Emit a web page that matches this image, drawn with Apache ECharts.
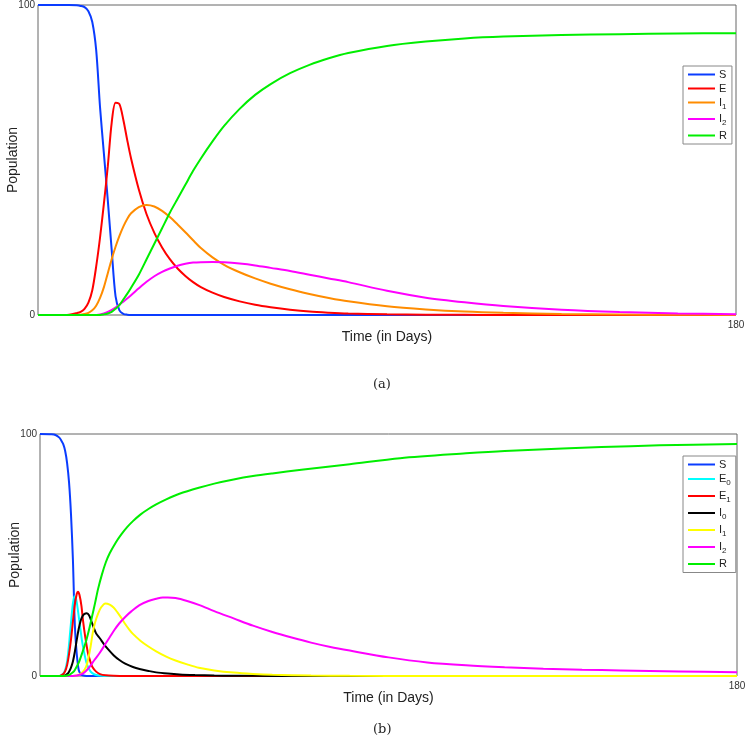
<!DOCTYPE html>
<html>
<head>
<meta charset="utf-8">
<script src="https://cdn.jsdelivr.net/npm/echarts@6/dist/echarts.min.js"></script>
<style>
html,body{margin:0;padding:0;background:#fff;}
#c{width:746px;height:738px;}
</style>
</head>
<body>
<div id="c"></div>
<script>
// ---------- Panel (a) data: [day, population] ----------
const S_a = [[0,100],[5,100],[8,100],[10,99.9],[11,99.7],[12,99.3],[13,98],[14,94.5],[15,85.5],[16,67],[17,52],[18,37],[19,21],[20,6],[21,1.5],[22,0.4],[23,0.1],[24,0],[40,0],[180,0]];
const E_a = [[0,0],[5,0],[8,0.1],[10,0.6],[11,1],[12,2],[13,4],[14,8],[15,15.6],[16,25],[17,36],[18,48],[19,62],[20,68.5],[21,68],[22,63],[23,56.5],[24,50.5],[26,40.5],[28,32.5],[30,26.5],[32,21.8],[34,18],[36,15],[38,12.6],[40,10.6],[42,9],[45,7.2],[48,5.8],[52,4.4],[56,3.3],[60,2.5],[65,1.7],[70,1.1],[75,0.75],[80,0.5],[90,0.25],[100,0.1],[110,0.05],[120,0.02],[135,0],[180,0]];
const I1_a = [[0,0],[10,0],[11,0.1],[12,0.3],[13,0.7],[14,1.5],[15,3],[16,5.5],[17,9],[18,13.5],[19,18],[20,22],[21,25.5],[22,28.5],[23,31],[24,32.8],[26,34.8],[28,35.5],[30,35],[32,33.6],[34,31.6],[36,29.2],[38,26.7],[40,24.1],[42,21.6],[45,18.6],[48,16.2],[52,13.8],[56,11.8],[60,10.1],[65,8.3],[70,6.8],[75,5.5],[80,4.4],[90,2.8],[100,1.8],[110,1.1],[120,0.7],[135,0.35],[150,0.15],[165,0.07],[180,0.03]];
const I2_a = [[0,0],[14,0],[16,0.2],[18,1],[20,2.4],[22,4.3],[24,6.4],[26,8.6],[28,10.7],[30,12.5],[32,13.9],[34,15],[36,15.9],[38,16.5],[40,16.9],[42,17.05],[45,17.1],[48,17],[52,16.6],[56,16],[60,15.2],[65,14.2],[70,13],[75,11.8],[80,10.6],[90,7.8],[100,5.6],[110,4.1],[120,2.9],[135,1.7],[150,0.95],[165,0.5],[180,0.25]];
const R_a = [[0,0],[16,0],[17,0.2],[18,0.5],[19,1],[20,2],[21,3.2],[22,5],[23,6.8],[24,8.8],[26,13],[28,18],[30,23],[32,28],[34,33],[36,37.5],[38,42],[40,46.5],[42,50.5],[45,56],[48,61],[52,66.5],[56,71],[60,74.5],[65,78],[70,80.7],[75,82.8],[80,84.5],[90,86.8],[100,88.2],[110,89.2],[120,89.8],[135,90.3],[150,90.6],[165,90.8],[180,90.9]];

// ---------- Panel (b) data ----------
const S_b = [[0,100],[3,99.9],[4,99.6],[5,98.5],[5.5,97.3],[6,95.8],[6.5,93],[7,88],[7.5,80],[8,67],[8.5,48],[9,21],[9.5,9],[10,2.5],[10.5,0.8],[11,0.3],[12,0],[30,0],[180,0]];
const E0_b = [[0,0],[5,0],[5.5,0.4],[6,1],[6.5,2.5],[7,6],[7.5,13],[8,22],[8.5,30],[8.9,33],[9.3,32],[9.8,27],[10.3,21],[10.8,15],[11.3,10.5],[12,5.5],[12.8,2.5],[13.5,1.2],[14.5,0.4],[16,0.1],[18,0],[180,0]];
const E1_b = [[0,0],[5,0],[6,0.8],[6.5,2],[7,4.5],[7.5,9],[8,15],[8.5,22.5],[9,29.5],[9.5,34],[9.8,34.8],[10.2,33.5],[10.7,29],[11.1,23],[11.7,16],[12.4,9.4],[13,6],[13.5,3.8],[14.5,1.8],[15.5,0.8],[17,0.3],[19,0.1],[22,0],[180,0]];
const I0_b = [[0,0],[6,0],[6.5,0.3],[7,0.8],[7.5,1.8],[8,3.5],[8.5,6],[9,10],[9.5,15],[10,19.5],[10.5,22.8],[11,24.8],[11.5,25.7],[12.1,25.9],[12.7,25],[13.3,22.5],[14,19.5],[14.5,17.6],[15.5,15.5],[16.5,13.2],[17.5,11.2],[19,8.6],[20.5,6.6],[22,5.1],[24,3.7],[26,2.8],[28,2.1],[30,1.5],[33,1],[36,0.65],[40,0.4],[45,0.2],[50,0.1],[60,0.03],[70,0],[180,0]];
const I1_b = [[0,0],[8,0],[9,0.1],[10,0.5],[11,1.6],[11.9,3.8],[12.5,7.5],[13,11.5],[13.6,17.6],[14.2,22],[15,25.8],[15.8,28.4],[16.9,30],[18,29.5],[19,28.3],[20,26.3],[21,24],[22,21.5],[23,19.3],[24,17.4],[26,14.5],[28,12.2],[30,10.2],[32.6,8],[35,6.4],[38,4.8],[41,3.4],[45,2.3],[50,1.4],[55,0.85],[60,0.5],[70,0.2],[80,0.08],[100,0],[180,0]];
const I2_b = [[0,0],[8,0],[9,0.1],[10,0.4],[11,1],[12,2.3],[13,4.2],[14,6.5],[15.4,9.5],[17,13.5],[18,16],[19.2,19],[20.5,21.8],[22,24.4],[23.5,26.6],[25.7,29.3],[28,31],[30,31.9],[31.7,32.4],[33,32.4],[35,32.2],[38,31],[41.2,29.3],[45,26.8],[50,23.8],[55,20.8],[60,18.2],[65,15.9],[70,13.8],[75,12],[80,10.5],[90,7.7],[100,5.6],[110,4.4],[120,3.6],[130,3],[140,2.6],[150,2.3],[165,1.9],[180,1.6]];
const R_b = [[0,0],[6,0],[7,0.2],[7.6,0.5],[8.5,1.5],[9,2.5],[10,5.5],[11,10],[12,15],[12.8,20],[13.5,25],[14.2,30],[15,36],[16,42],[17,47],[18,50.7],[19.5,55],[21,58.5],[22.5,61.5],[24,64],[26,66.8],[28,69],[30,70.9],[32.6,73],[36,75.3],[41,77.8],[45,79.5],[50,81.2],[55,82.6],[60,83.7],[67.5,85.2],[80,87.5],[93,90],[110,92],[120,93],[135,94],[145,94.6],[160,95.3],[180,95.9]];

// ---------- labels ----------
const yTicks = [0, 100];
const xMax = 180;
const legendA = [
  {id:'S_a', label:'S', color:'#0a3cff', data:S_a},
  {id:'E_a', label:'E', color:'#ff0000', data:E_a},
  {id:'I1_a', label:'I{sub|1}', color:'#ff8c00', data:I1_a},
  {id:'I2_a', label:'I{sub|2}', color:'#ff00ff', data:I2_a},
  {id:'R_a', label:'R', color:'#00ee00', data:R_a}
];
const legendB = [
  {id:'S_b', label:'S', color:'#0a3cff', data:S_b},
  {id:'E0_b', label:'E{sub|0}', color:'#00ffff', data:E0_b},
  {id:'E1_b', label:'E{sub|1}', color:'#ff0000', data:E1_b},
  {id:'I0_b', label:'I{sub|0}', color:'#000000', data:I0_b},
  {id:'I1_b', label:'I{sub|1}', color:'#ffff00', data:I1_b},
  {id:'I2_b', label:'I{sub|2}', color:'#ff00ff', data:I2_b},
  {id:'R_b', label:'R', color:'#00ee00', data:R_b}
];
const labelMap = {};
[...legendA, ...legendB].forEach(d => labelMap[d.id] = d.label);

const font = 'Liberation Sans, Arial, Helvetica, sans-serif';

function mkSeries(list, idx){
  return list.map(d => ({
    name: d.id, type:'line', xAxisIndex: idx, yAxisIndex: idx,
    data: d.data, showSymbol:false, symbol:'none', smooth:0.3,
    lineStyle:{color:d.color, width:2}, itemStyle:{color:d.color},
    emphasis:{disabled:true}, z: 3
  }));
}
function mkX(idx){
  return {type:'value', gridIndex:idx, min:0, max:xMax, interval:xMax,
    name:'Time (in Days)', nameLocation:'middle', nameGap:15, nameMoveOverlap:false,
    nameTextStyle:{fontFamily:font, fontSize:14, color:'#222'},
    axisLine:{show:false}, axisTick:{show:false}, splitLine:{show:false},
    axisLabel:{fontFamily:font, fontSize:10, color:'#333', margin:5,
      formatter: v => v === xMax ? String(xMax) : ''}};
}
function mkY(idx){
  return {type:'value', gridIndex:idx, min:yTicks[0], max:yTicks[1], interval:yTicks[1]-yTicks[0],
    name:'Population', nameLocation:'middle', nameGap:18, nameMoveOverlap:false,
    nameTextStyle:{fontFamily:font, fontSize:14, color:'#222'},
    axisLine:{show:false}, axisTick:{show:false}, splitLine:{show:false},
    axisLabel:{fontFamily:font, fontSize:10, color:'#333', margin:3}};
}
function mkLegend(list, top, gap){
  return {orient:'vertical', left:683, top:top, padding:[3,5,3,5],
    itemGap:gap, itemWidth:27, itemHeight:2, icon:'rect',
    backgroundColor:'#fff', borderColor:'#888', borderWidth:1,
    data: list.map(d => d.id),
    formatter: n => labelMap[n],
    selectedMode:false,
    textStyle:{fontFamily:font, fontSize:11, color:'#222', padding:[0,0,0,-1],
      rich:{sub:{fontFamily:font, fontSize:8, color:'#222', padding:[8,0,0,0]}}}};
}

const chart = echarts.init(document.getElementById('c'), null, {renderer:'canvas'});
chart.setOption({
  animation:false,
  backgroundColor:'#fff',
  grid:[
    {left:38, top:5, width:698, height:310, show:true, borderColor:'#666', borderWidth:1, backgroundColor:'transparent', containLabel:false, outerBoundsMode:'none'},
    {left:40, top:434, width:697, height:242, show:true, borderColor:'#666', borderWidth:1, backgroundColor:'transparent', containLabel:false, outerBoundsMode:'none'}
  ],
  xAxis:[mkX(0), mkX(1)],
  yAxis:[mkY(0), mkY(1)],
  legend:[mkLegend(legendA, 66, 3), mkLegend(legendB, 456, 3.5)],
  series:[...mkSeries(legendA,0), ...mkSeries(legendB,1)],
  graphic:[
    {type:'text', left:373, top:378, style:{text:'(a)', font:'13px "DejaVu Serif", "Liberation Serif", serif', fill:'#222'}},
    {type:'text', left:373, top:723, style:{text:'(b)', font:'13px "DejaVu Serif", "Liberation Serif", serif', fill:'#222'}}
  ]
});
</script>
</body>
</html>
